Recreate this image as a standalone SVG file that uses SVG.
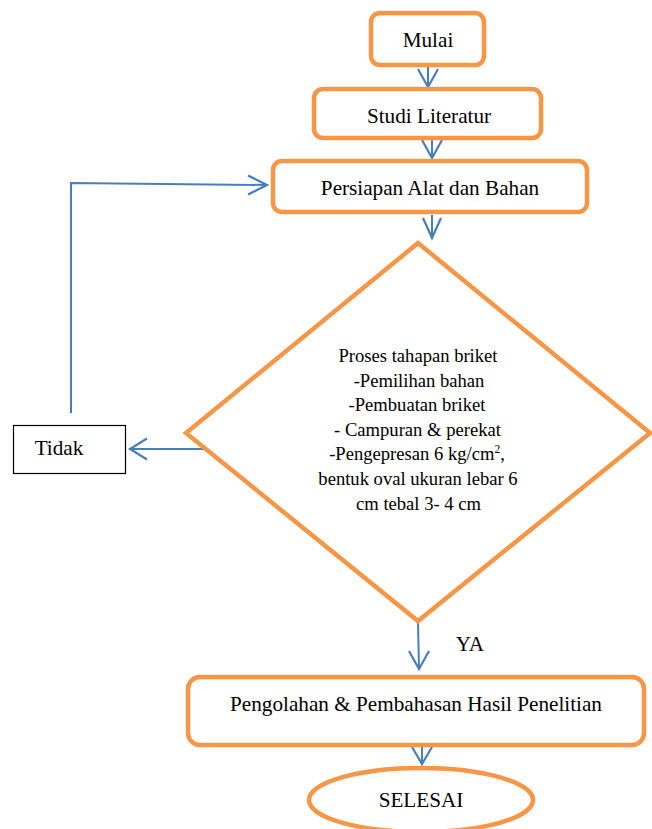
<svg xmlns="http://www.w3.org/2000/svg" width="652" height="829" viewBox="0 0 652 829">
<style>
.n{fill:#fff;stroke:#f79646;stroke-width:4.5}
.t{font-family:"Liberation Serif","Times New Roman",serif;fill:#000;text-anchor:middle}
.b{font-size:21.2px}
.d{font-size:18.6px}
.c{fill:none;stroke:#4a7ebb;stroke-width:2}
.h{fill:none;stroke:#4a7ebb;stroke-width:2.2}
</style>
<rect width="652" height="829" fill="#fff"/>
<g id="connectors">
<line class="c" x1="428" y1="66" x2="428" y2="87"/>
<polyline class="h" points="418,69 428,87 438,69"/>
<line class="c" x1="432" y1="138" x2="432" y2="158"/>
<polyline class="h" points="422,140 432,158 442,140"/>
<line class="c" x1="432" y1="215" x2="432" y2="238"/>
<polyline class="h" points="423,218 432,238 441,218"/>
<line class="c" x1="207" y1="449" x2="130" y2="449"/>
<polyline class="h" points="147,438.5 130,449 147,459.5"/>
<polyline class="c" points="71,413 71,183 267,185"/>
<polyline class="h" points="248,175.5 267,185 248,194.5"/>
<line class="c" x1="418" y1="622" x2="419" y2="669"/>
<polyline class="h" points="409,651 419,669 429,651"/>
<line class="c" x1="422" y1="746" x2="422" y2="764"/>
<polyline class="h" points="412,747 422,764 432,747"/>
</g>
<g id="mulai">
<rect class="n" x="371" y="13" width="113" height="52" rx="9"/>
<text class="t b" x="428" y="47">Mulai</text>
</g>
<g id="studi">
<rect class="n" x="314" y="89" width="227" height="49" rx="9"/>
<text class="t b" x="429" y="123">Studi Literatur</text>
</g>
<g id="persiapan">
<rect class="n" x="273" y="161" width="314" height="51" rx="9"/>
<text class="t b" x="430" y="195">Persiapan Alat dan Bahan</text>
</g>
<g id="proses">
<polygon class="n" points="418,243 650,433 418,621 186,433"/>
<text class="t d" x="418" y="362">Proses tahapan briket</text>
<text class="t d" x="419" y="387">-Pemilihan bahan</text>
<text class="t d" x="417" y="411">-Pembuatan briket</text>
<text class="t d" x="417.5" y="436">- Campuran &amp; perekat</text>
<text class="t d" x="417" y="460">-Pengepresan 6 kg/cm<tspan font-size="11.5" dy="-7">2</tspan><tspan dy="7">,</tspan></text>
<text class="t d" x="418" y="485">bentuk oval ukuran lebar 6</text>
<text class="t d" x="418.5" y="510">cm tebal 3- 4 cm</text>
</g>
<g id="tidak">
<rect x="13.5" y="425.5" width="112" height="48" fill="#fff" stroke="#000" stroke-width="1.2"/>
<text class="t b" x="59" y="455">Tidak</text>
</g>
<text class="t b" x="470" y="651">YA</text>
<g id="pengolahan">
<rect class="n" x="188" y="677" width="456" height="68" rx="12"/>
<text class="t b" x="416" y="711">Pengolahan &amp; Pembahasan Hasil Penelitian</text>
</g>
<g id="selesai">
<ellipse class="n" cx="421" cy="800" rx="112" ry="32"/>
<text class="t b" x="421" y="807">SELESAI</text>
</g>
</svg>
